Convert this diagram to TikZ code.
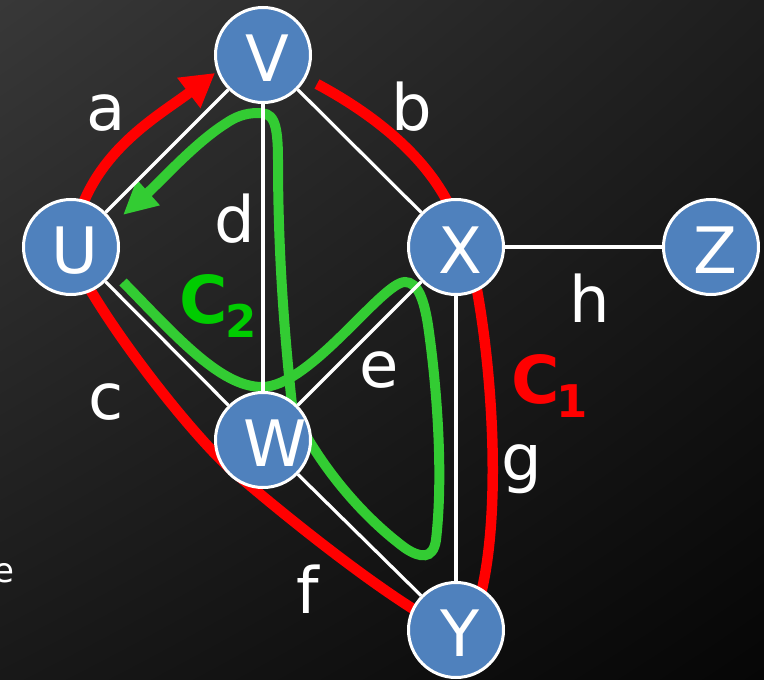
\documentclass[tikz,border=0pt]{standalone}
\usepackage{fontspec}
\setmainfont{DejaVu Sans}
\usetikzlibrary{arrows.meta,shadings}
\pgfdeclarelayer{bg}
\pgfdeclarelayer{curves}
\pgfdeclarelayer{edges}
\pgfsetlayers{bg,curves,edges,main}
\definecolor{nodeblue}{RGB}{79,129,189}
\definecolor{cred}{RGB}{255,0,0}
\definecolor{cgreen}{RGB}{51,204,51}
\definecolor{lgreen}{RGB}{0,204,0}
\definecolor{bgA}{RGB}{56,56,56}
\definecolor{bgB}{RGB}{30,30,30}
\definecolor{bgC}{RGB}{24,24,24}
\definecolor{bgD}{RGB}{6,6,6}
\begin{document}
\begin{tikzpicture}[x=1pt,y=-1pt,
  vertex/.style={circle,draw=white,line width=3pt,fill=nodeblue,minimum size=95pt,inner sep=0pt},
  vtext/.style={text=white,inner sep=0pt,font=\fontsize{64}{70}\selectfont,xshift=4pt,yshift=-3.5pt},
  edge/.style={draw=white,line width=3.2pt},
  elabel/.style={text=white,font=\fontsize{64}{70}\selectfont,anchor=base,inner sep=0pt},
  cyc/.style={line width=10.5pt,line cap=butt},
  clabel/.style={anchor=base west,inner sep=0pt,font=\bfseries}]
\useasboundingbox (0,0) rectangle (764,680);
\clip (0,0) rectangle (764,680);
\begin{pgfonlayer}{bg}
\shade[upper left=bgA,upper right=bgB,lower left=bgC,lower right=bgD] (0,0) rectangle (764,680);
\end{pgfonlayer}

% vertices
\node[vertex,label={[vtext]center:V}] (V) at (263,55) {};
\node[vertex,label={[vtext]center:U}] (U) at (71,247) {};
\node[vertex,label={[vtext]center:X}] (X) at (456,247) {};
\node[vertex,label={[vtext]center:Z}] (Z) at (711,247) {};
\node[vertex,label={[vtext,xshift=8pt]center:W}] (W) at (263,440) {};
\node[vertex,label={[vtext]center:Y}] (Y) at (456,630) {};

% edges
\begin{pgfonlayer}{edges}
\draw[edge] (U) -- (V);
\draw[edge] (V) -- (X);
\draw[edge] (V) -- (W);
\draw[edge] (U) -- (W);
\draw[edge] (X) -- (W);
\draw[edge] (X) -- (Z);
\draw[edge] (X) -- (Y);
\draw[edge] (W) -- (Y);
\end{pgfonlayer}

% cycles
\begin{pgfonlayer}{curves}
\draw[cyc,cred,-{Triangle[length=33pt,width=36pt]}]
  (317,84) .. controls (375,115) and (432,160) .. (455,218) -- (472,265)
  .. controls (493,360) and (503,520) .. (478,605) -- (440,625)
  .. controls (380,592) and (290,520) .. (234,472)
  .. controls (200,443) and (120,345) .. (80,272) -- (76,225)
  .. controls (95,150) and (160,115) .. (215,73);
\draw[cyc,line width=10pt,cgreen,-{Triangle[length=34pt,width=32pt]}]
  (123,282) .. controls (175,335) and (220,387) .. (262,387)
  .. controls (310,387) and (382,282) .. (405,282)
  .. controls (418,282) and (424,300) .. (428,325)
  .. controls (436,380) and (444,470) .. (436,540)
  .. controls (433,560) and (420,558) .. (405,548)
  .. controls (370,522) and (330,480) .. (300,425) -- (292,405)
  .. controls (284,330) and (278,250) .. (278,160)
  .. controls (278,118) and (272,113) .. (258,113)
  .. controls (245,113) and (235,117) .. (225,124)
  .. controls (195,143) and (160,182) .. (123,215);
\end{pgfonlayer}

% edge labels
\node[elabel] (la) at (106,130) {a};
\node[elabel] (lb) at (412,130) {b};
\node[elabel] (ld) at (235,242) {d};
\node[elabel] (lh) at (590,322) {h};
\node[elabel] (lc) at (106,419) {c};
\node[elabel] (le) at (379,387) {e};
\node[elabel] (lf) at (308,613) {f};
\node[elabel] (lg) at (522,480) {g};
\node[anchor=base,inner sep=0pt,text=white,font=\fontsize{34}{40}\selectfont] (lx) at (4,582) {e};

% cycle labels
\node[clabel,text=lgreen] (c2) at (179,323) {\fontsize{66}{70}\selectfont C\kern-2pt\raisebox{-14pt}{\fontsize{45}{50}\selectfont 2}};
\node[clabel,text=cred] (c1) at (511,403) {\fontsize{66}{70}\selectfont C\kern-3pt\raisebox{-14pt}{\fontsize{45}{50}\selectfont 1}};
\end{tikzpicture}
\end{document}
